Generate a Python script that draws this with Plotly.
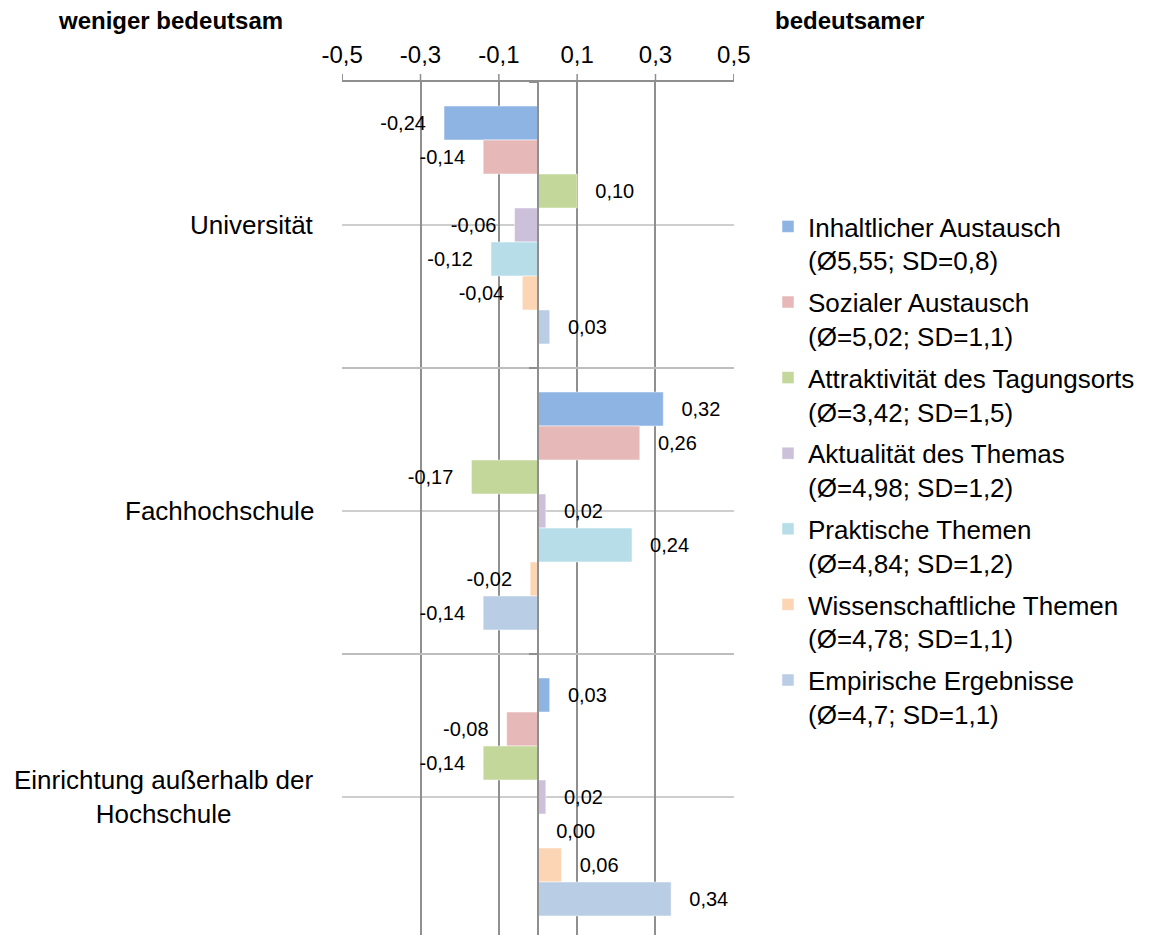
import plotly.graph_objects as go

# ---- data ----
categories = ["Universität", "Fachhochschule", "Einrichtung außerhalb der<br>Hochschule"]
series_names = [
    "Inhaltlicher Austausch<br>(Ø5,55; SD=0,8)",
    "Sozialer Austausch<br>(Ø=5,02; SD=1,1)",
    "Attraktivität des Tagungsorts<br>(Ø=3,42; SD=1,5)",
    "Aktualität des Themas<br>(Ø=4,98; SD=1,2)",
    "Praktische Themen<br>(Ø=4,84; SD=1,2)",
    "Wissenschaftliche Themen<br>(Ø=4,78; SD=1,1)",
    "Empirische Ergebnisse<br>(Ø=4,7; SD=1,1)",
]
inhaltlicher = [-0.24, 0.32, 0.03]
sozialer = [-0.14, 0.26, -0.08]
attraktivitaet = [0.10, -0.17, -0.14]
aktualitaet = [-0.06, 0.02, 0.02]
praktische = [-0.12, 0.24, 0.00]
wissenschaftliche = [-0.04, -0.02, 0.06]
empirische = [0.03, -0.14, 0.34]
series_values = [inhaltlicher, sozialer, attraktivitaet, aktualitaet,
                 praktische, wissenschaftliche, empirische]
colors = ["#8EB4E3", "#E6B9B8", "#C4D79B", "#CCC0DA", "#B7DEE8", "#FCD5B5", "#B9CDE5"]
x_ticks = [-0.5, -0.3, -0.1, 0.1, 0.3, 0.5]
header_left = "weniger bedeutsam"
header_right = "bedeutsamer"

FONT = "Arial, Liberation Sans, sans-serif"
GRID_DARK = "#8F8F8F"
GRID_LIGHT = "#BEBEBE"

# ---- geometry (pixels, page has an 8px body margin) ----
OFF = 8
W, H = 1151 - OFF, 935 - OFF
plot_l, plot_r, plot_t = 342 - OFF, 734 - OFF, 82 - OFF
cat_px = 286.0
plot_h = H - plot_t
pw = plot_r - plot_l
x_range = [-0.5005, 0.5005]


def fmt(v):
    return f"{v:.2f}".replace(".", ",")


def label(v):
    pad = "\u00a0\u00a0\u2009"
    return (fmt(v) + pad) if v < 0 else (pad + fmt(v))


fig = go.Figure()
for name, vals, col in zip(series_names, series_values, colors):
    fig.add_trace(go.Bar(
        y=categories, x=vals, name=name, orientation="h",
        marker=dict(color=col, line=dict(color="white", width=0.5)),
        text=[label(v) for v in vals], textposition="outside",
        textfont=dict(family=FONT, size=20, color="black"),
        constraintext="none", cliponaxis=False,
        legendgroup=name, hoverinfo="skip",
    ))

y_end = -0.5 + plot_h / cat_px

shapes = []
# gridlines at category centres
for c in categories:
    shapes.append(dict(type="line", xref="paper", x0=0, x1=1, yref="y", y0=c, y1=c,
                       line=dict(color=GRID_LIGHT, width=1.5), layer="below"))
# outward tick marks of the top value axis
for t in x_ticks:
    shapes.append(dict(type="line", xref="x", x0=t, x1=t, yref="paper",
                       y0=1, y1=1 + 8 / plot_h, line=dict(color=GRID_DARK, width=1.5)))

annotations = []
for c in categories:
    annotations.append(dict(text=c, xref="paper", x=(316 - OFF - plot_l) / pw, xanchor="right",
                            yref="y", y=c, yanchor="middle", showarrow=False, align="center",
                            font=dict(family=FONT, size=26, color="black")))
hy = 1 + (plot_t - (21 - OFF)) / plot_h
annotations.append(dict(text=f"<b>{header_left}</b>", xref="paper", x=(56 - OFF - plot_l) / pw,
                        xanchor="left", yref="paper", y=hy,
                        yanchor="middle", showarrow=False,
                        font=dict(family=FONT, size=24, color="black")))
annotations.append(dict(text=f"<b>{header_right}</b>", xref="paper", x=(773 - OFF - plot_l) / pw,
                        xanchor="left", yref="paper", y=hy,
                        yanchor="middle", showarrow=False,
                        font=dict(family=FONT, size=24, color="black")))

fig.update_layout(
    width=W, height=H,
    margin=dict(l=plot_l, r=W - plot_r, t=plot_t, b=0, pad=0),
    paper_bgcolor="white", plot_bgcolor="white",
    barmode="group", bargap=0.168, bargroupgap=0,
    font=dict(family=FONT, color="black"),
    xaxis=dict(
        side="top", range=x_range, tickvals=x_ticks,
        ticktext=[f"{t:.1f}".replace(".", ",") for t in x_ticks],
        tickfont=dict(family=FONT, size=24, color="black"),
        showgrid=True, gridcolor=GRID_DARK, gridwidth=1.5,
        zeroline=False, showline=True, linecolor=GRID_DARK, linewidth=1.5,
        ticks="", ticklabelstandoff=8, fixedrange=True,
    ),
    yaxis=dict(
        type="category", categoryarray=categories, range=[y_end, -0.5],
        tickson="boundaries", showgrid=True, gridcolor=GRID_LIGHT, gridwidth=1.5,
        showticklabels=False, anchor="free", position=0.5,
        showline=True, linecolor=GRID_DARK, linewidth=1.5,
        ticks="outside", ticklen=8, tickcolor=GRID_DARK, tickwidth=1.5,
        zeroline=False, fixedrange=True,
    ),
    yaxis2=dict(
        overlaying="y", anchor="free", position=0.5, side="right",
        range=[y_end, -0.5], tickvals=[-0.5, 0.5, 1.5, 2.5],
        showticklabels=False, showgrid=False, zeroline=False, showline=False,
        ticks="outside", ticklen=8, tickcolor=GRID_DARK, tickwidth=1.5,
        fixedrange=True,
    ),
    legend=dict(
        x=(768 - OFF - plot_l) / pw, xanchor="left",
        y=1 - (203 - OFF - plot_t) / plot_h, yanchor="top",
        font=dict(family=FONT, size=26, color="black"),
        valign="top", traceorder="grouped", tracegroupgap=5,
        bgcolor="rgba(0,0,0,0)",
    ),
    shapes=shapes, annotations=annotations,
)

fig.write_html("out.html")
